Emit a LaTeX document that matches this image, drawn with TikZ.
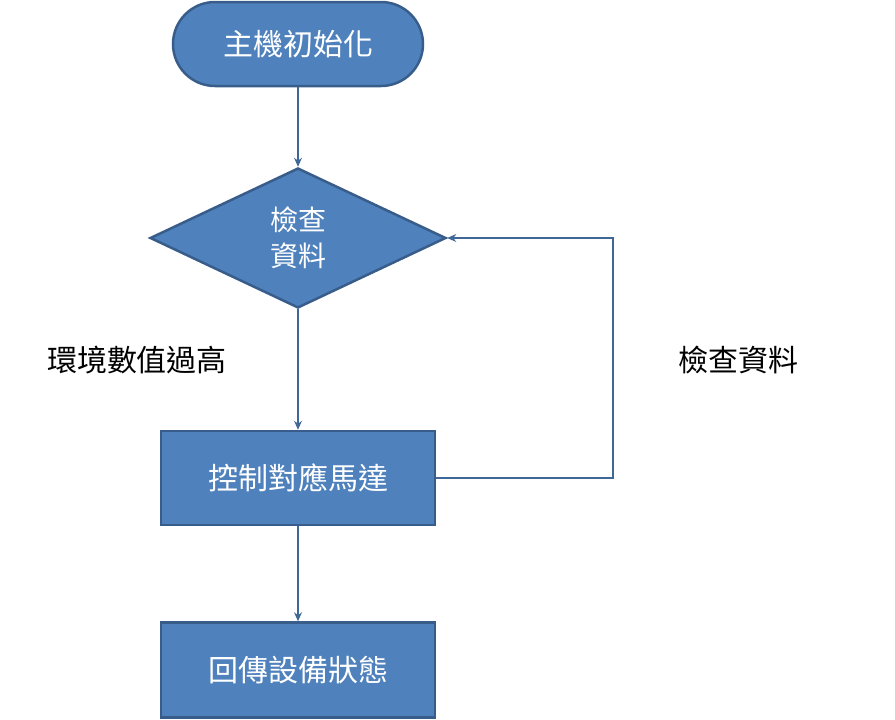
\documentclass[tikz,border=0pt]{standalone}
\usepackage{fontspec}
\setmainfont{Noto Sans CJK TC}
\usetikzlibrary{shapes.geometric,arrows.meta,positioning}
\definecolor{boxfill}{HTML}{4F81BD}
\definecolor{boxline}{HTML}{385D8A}
\begin{document}
\begin{tikzpicture}[x=1pt,y=-1pt,
  block/.style={draw=boxline,line width=2.5pt,fill=boxfill,text=white,font=\fontsize{30}{36}\selectfont,inner sep=0pt},
  flow/.style={draw=boxline!70!boxfill,line width=1.2pt,-{Stealth[length=9pt,width=8pt]}},
  note/.style={font=\fontsize{30}{36}\selectfont}]
  \useasboundingbox (0,0) rectangle (895,720);
  % main flow
  \node[block,rounded corners=42pt,minimum width=250pt,minimum height=84pt] (init) at (298,44) {主機初始化};
  \node[block,diamond,aspect=2.1,minimum width=296pt,minimum height=140pt,align=center,font=\fontsize{28}{36}\selectfont] (check) at (298,238) {檢查\\資料};
  \node[block,minimum width=274pt,minimum height=94pt] (motor) at (298,478) {控制對應馬達};
  \node[block,minimum width=274pt,minimum height=95pt] (status) at (298,670) {回傳設備狀態};
  \coordinate (loop) at (613,478);
  \draw[flow] (init) -- (check);
  \draw[flow] (check) -- (motor);
  \draw[flow] (motor) -- (status);
  \draw[flow] (motor.east) -- (loop) |- (check.east);
  % labels
  \node[note] (high) at (137,360) {環境數值過高};
  \node[note] (again) at (738,360) {檢查資料};
\end{tikzpicture}
\end{document}
